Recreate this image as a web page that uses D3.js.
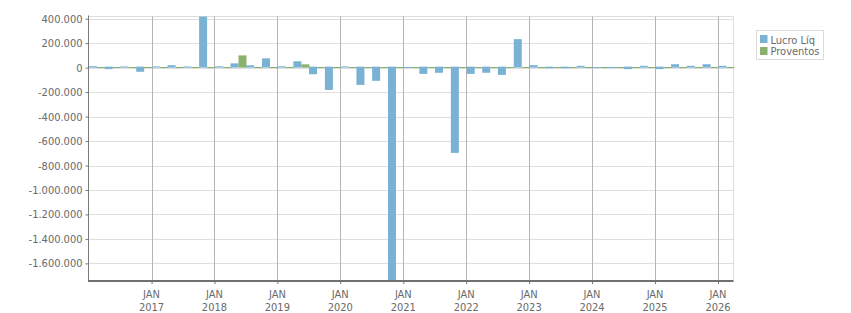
<!DOCTYPE html>
<html>
<head>
<meta charset="utf-8">
<script src="https://cdn.jsdelivr.net/npm/d3@7.9.0/dist/d3.min.js"></script>
<style>
  body { margin: 0; background: #fff; }
  text { font-family: 'DejaVu Sans Condensed', 'DejaVu Sans', sans-serif; font-stretch: condensed; font-size: 11px; fill: #6a6a6a; }
</style>
</head>
<body>
<svg id="chart" width="851" height="313"></svg>
<script>
// quarter start months, Q1 2016 .. Q1 2026
const quarters = [
  '2016-01', '2016-04', '2016-07', '2016-10',
  '2017-01', '2017-04', '2017-07', '2017-10',
  '2018-01', '2018-04', '2018-07', '2018-10',
  '2019-01', '2019-04', '2019-07', '2019-10',
  '2020-01', '2020-04', '2020-07', '2020-10',
  '2021-01', '2021-04', '2021-07', '2021-10',
  '2022-01', '2022-04', '2022-07', '2022-10',
  '2023-01', '2023-04', '2023-07', '2023-10',
  '2024-01', '2024-04', '2024-07', '2024-10',
  '2025-01', '2025-04', '2025-07', '2025-10',
  '2026-01'
];

const lucroLiq = [
  12000, -12000, 10000, -34000,
  10000, 20000, 10000, 418000,
  11000, 35000, 19000, 76000,
  11000, 52000, -54000, -182000,
  10000, -141000, -108000, -1740000,
  8000, -51000, -42000, -697000,
  -51000, -42000, -59000, 233000,
  20000, -5000, -5000, 15000,
  8000, 8000, -12000, 15000,
  -12000, 28000, 15000, 28000,
  15000
];

const proventos = [
  0, 0, 0, 0,
  0, 0, 0, 0,
  0, 100000, 0, 0,
  0, 27000, 0, 0,
  0, 0, 0, 0,
  0, 0, 0, 0,
  0, 0, 0, 0,
  0, 5000, 0, 0,
  0, 0, 0, 0,
  0, 0, 0, 0,
  0
];

const seriesNames = ['Lucro Líq', 'Proventos'];
const seriesColors = ['#7ab2d4', '#8bb26c'];
const yTicks = [400000, 200000, 0, -200000, -400000, -600000, -800000, -1000000,
  -1200000, -1400000, -1600000];
const yearTicks = [2017, 2018, 2019, 2020, 2021, 2022, 2023, 2024, 2025, 2026];

const plotLeft = 88.5, plotRight = 733.5, plotTop = 16.5, plotBottom = 280.5;

const parseMonth = d3.utcParse('%Y-%m');
const data = quarters.map((q, i) => ({
  date: parseMonth(q),
  values: [lucroLiq[i], proventos[i]]
}));

const x = d3.scaleUtc()
  .domain([parseMonth('2016-01'), parseMonth('2026-04')])
  .range([plotLeft, plotRight]);

const y = d3.scaleLinear()
  .domain([-1740000, 418000])
  .range([plotBottom, plotTop]);

const inner = d3.scaleBand()
  .domain(seriesNames)
  .range([0.5, 16.5]);

const locale = d3.formatLocale({ decimal: ',', thousands: '.', grouping: [3], currency: ['R$', ''], minus: '-' });
const fmt = locale.format(',d');

const svg = d3.select('#chart');

// horizontal grid
svg.append('g')
  .selectAll('line')
  .data(yTicks)
  .join('line')
  .attr('x1', plotLeft).attr('x2', plotRight)
  .attr('y1', (d) => Math.round(y(d)) + 0.5)
  .attr('y2', (d) => Math.round(y(d)) + 0.5)
  .attr('stroke', '#dedede');

// top & right border
svg.append('path')
  .attr('d', `M${plotLeft},${plotTop}H${plotRight}V${plotBottom}`)
  .attr('fill', 'none')
  .attr('stroke', '#dedede');

const janDates = yearTicks.map((yr) => parseMonth(`${yr}-01`));

// vertical grid at each january
svg.append('g')
  .selectAll('line')
  .data(janDates)
  .join('line')
  .attr('x1', (d) => Math.round(x(d)) + 0.5)
  .attr('x2', (d) => Math.round(x(d)) + 0.5)
  .attr('y1', plotTop).attr('y2', plotBottom)
  .attr('stroke', '#b4b4b4');

// bars
const y0 = y(0);
const barG = svg.append('g');
data.forEach((d) => {
  d.values.forEach((v, s) => {
    let yTop, h;
    if (v >= 0) {
      h = y0 - y(v);
      yTop = y(v);
      if (h < 1) { yTop = Math.floor(y0); h = 1; }
    } else {
      yTop = y0 - 1;
      h = y(v) - y0 + 1;
    }
    barG.append('rect')
      .attr('x', x(d.date) + inner(seriesNames[s]))
      .attr('width', inner.bandwidth())
      .attr('y', yTop)
      .attr('height', h)
      .attr('fill', seriesColors[s]);
  });
});

// y axis
const yAxis = svg.append('g')
  .attr('transform', `translate(${plotLeft},0)`)
  .call(d3.axisLeft(y).tickValues(yTicks).tickFormat(fmt).tickSize(3).tickPadding(3));
yAxis.attr('font-family', null).attr('font-size', null);
yAxis.select('.domain').attr('stroke', '#7a7a7a').attr('d', `M0,${plotTop - 1}V${plotBottom}`);
yAxis.selectAll('.tick line').attr('stroke', '#7a7a7a');
yAxis.selectAll('text').attr('fill', '#6a6a6a');

// x axis
const xAxis = svg.append('g')
  .attr('transform', `translate(0,${plotBottom + 0.5})`)
  .call(d3.axisBottom(x).tickValues(janDates).tickFormat('').tickSize(3).tickSizeOuter(0));
xAxis.select('.domain').attr('stroke', '#707070').attr('stroke-width', 2)
  .attr('d', `M${plotLeft - 0.5},0H${plotRight}`);
xAxis.selectAll('.tick line').attr('stroke', '#707070');

const labels = svg.append('g')
  .selectAll('text')
  .data(janDates)
  .join('text')
  .attr('text-anchor', 'middle')
  .attr('x', (d) => x(d));
labels.append('tspan').attr('y', 298).text('JAN');
labels.append('tspan').attr('x', (d) => x(d)).attr('y', 311).text((d) => d.getUTCFullYear());

// legend
const legend = svg.append('g');
legend.append('rect')
  .attr('x', 756.5).attr('y', 30.5)
  .attr('width', 67).attr('height', 29)
  .attr('fill', '#fff').attr('stroke', '#dcdcdc');
seriesNames.forEach((name, i) => {
  legend.append('rect')
    .attr('x', 760).attr('y', 35 + i * 12)
    .attr('width', 7.5).attr('height', 8)
    .attr('fill', seriesColors[i]);
  legend.append('text')
    .attr('x', 770.5).attr('y', 43.5 + i * 11.5)
    .text(name);
});
</script>
</body>
</html>
